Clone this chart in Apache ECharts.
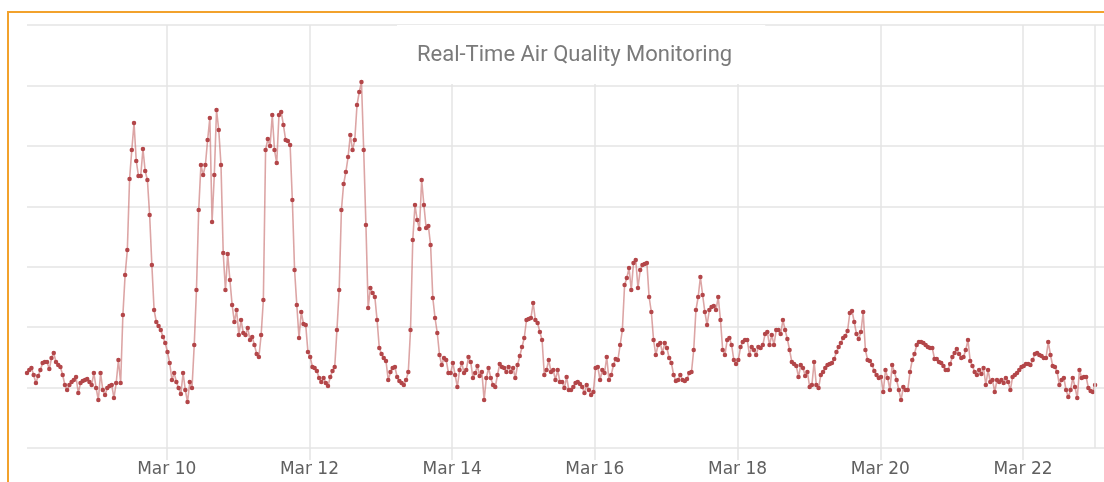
<!DOCTYPE html>
<html><head><meta charset="utf-8">
<script src="https://cdn.jsdelivr.net/npm/echarts@6/dist/echarts.min.js"></script>
<style>
html,body{margin:0;padding:0;width:1104px;height:482px;overflow:hidden;background:#fff;}
#chart{position:absolute;left:0;top:0;width:1104px;height:482px;}
#frame{position:absolute;left:7px;top:11px;width:1130px;height:520px;border:2px solid #f2a22c;pointer-events:none;}
</style></head><body>
<div id="chart"></div><div id="frame"></div>
<script>
const titleText = 'Real-Time Air Quality Monitoring';
const startTime = '2024-03-08T01:00:00';
const stepMinutes = 45;
const aqiValues = [
75,78,80,73,65,72,78,85,86,86,
79,90,95,86,83,81,73,63,58,63,
66,68,71,55,65,67,68,69,66,63,
75,60,48,75,58,53,60,62,63,50,
65,88,65,133,173,198,269,298,325,287,
272,272,299,277,268,233,183,138,126,122,
118,111,105,96,85,68,75,66,60,54,
75,58,46,66,60,103,158,238,283,273,
283,308,330,226,273,338,318,283,195,158,
194,168,143,126,138,113,128,115,113,120,
108,111,103,94,91,113,148,298,309,302,
333,298,285,333,336,323,308,307,303,248,
178,143,110,136,124,123,96,91,81,80,
77,70,66,70,65,62,71,77,81,118,
158,238,264,276,291,313,298,308,343,356,
366,298,223,140,160,155,151,128,100,94,
90,87,68,76,80,81,71,67,65,63,
68,76,118,208,243,228,219,268,243,220,
222,203,150,130,115,93,83,90,88,75,
75,85,73,61,78,85,75,78,91,86,
70,75,82,72,76,48,70,80,70,63,
61,73,84,81,80,76,81,76,80,70,
83,92,101,110,128,129,130,145,128,125,
116,108,73,78,88,76,78,68,78,66,
66,60,71,58,58,61,65,66,64,61,
55,63,58,53,56,80,81,68,78,75,
91,68,73,83,89,88,103,118,163,170,
180,158,185,188,160,178,183,184,185,151,
136,108,93,103,105,95,105,100,90,85,
73,67,68,73,68,67,69,75,76,98,
138,151,171,153,136,123,138,141,142,138,
151,128,98,93,108,110,103,88,84,88,
101,106,108,108,93,101,98,93,101,100,
103,114,116,103,113,103,118,118,114,128,
118,109,98,86,84,82,71,83,80,72,
76,61,63,86,63,60,73,76,80,83,
84,85,89,96,101,105,110,112,117,135,
137,126,114,109,116,136,98,88,87,83,
77,73,70,71,56,78,70,58,83,76,
68,58,48,61,58,58,76,88,94,103,
106,106,105,103,101,100,100,89,89,86,
85,82,78,78,84,91,95,99,94,90,
91,98,108,87,82,76,73,78,74,80,
63,78,66,68,56,68,66,68,65,70,
66,58,71,73,75,78,81,82,84,84,
83,88,94,95,93,92,90,90,106,93,
82,81,76,63,68,70,58,51,58,70,
61,50,78,70,71,71,60,57,56,63
];
const tickDates = ['2024-03-10T00:00:00','2024-03-12T00:00:00','2024-03-14T00:00:00','2024-03-16T00:00:00','2024-03-18T00:00:00','2024-03-20T00:00:00','2024-03-22T00:00:00'];
const tickLabels = ['Mar 10','Mar 12','Mar 14','Mar 16','Mar 18','Mar 20','Mar 22'];
const axisStart = '2024-03-08T01:00:00';
const axisEnd = '2024-03-23T03:15:00';
const extraGridDate = '2024-03-23T00:00:00';

const t0 = new Date(startTime).getTime();
const stepMs = stepMinutes * 60 * 1000;
const seriesData = aqiValues.map((v, i) => [t0 + i * stepMs, v]);
const tickMs = tickDates.map(d => new Date(d).getTime());
const gridColor = '#e4e4e4';

const chart = echarts.init(document.getElementById('chart'), null, {renderer: 'canvas'});
chart.setOption({
  animation: false,
  backgroundColor: '#fff',
  title: {
    text: titleText,
    left: 397, top: 25,
    backgroundColor: '#fff',
    padding: [19, 33, 18, 20],
    textStyle: {color: '#7a7a7a', fontSize: 22, fontWeight: 'normal', fontFamily: 'Roboto'}
  },
  grid: {left: 27, right: 0, top: 25, bottom: 34, outerBoundsMode: 'none', containLabel: false},
  xAxis: {
    type: 'value',
    min: new Date(axisStart).getTime(),
    max: new Date(axisEnd).getTime(),
    axisLine: {show: false},
    axisTick: {show: true, length: 12, customValues: tickMs, lineStyle: {color: gridColor, width: 1.5}},
    axisLabel: {
      customValues: tickMs,
      formatter: function (val) {
        const idx = tickMs.indexOf(val);
        return idx >= 0 ? tickLabels[idx] : '';
      },
      color: '#606060', fontSize: 17, margin: 13, fontFamily: 'DejaVu Sans'
    },
    splitLine: {show: true, lineStyle: {color: gridColor, width: 1.5}}
  },
  yAxis: {
    type: 'value', min: 0, max: 423.01, interval: 60.43,
    axisLabel: {show: false}, axisLine: {show: false}, axisTick: {show: false},
    splitLine: {show: true, lineStyle: {color: gridColor, width: 1.5}}
  },
  series: [
    {
      type: 'line', z: 1, data: [], silent: true,
      markLine: {
        silent: true, symbol: ['none', 'none'], label: {show: false},
        lineStyle: {color: gridColor, type: 'solid', width: 1.5},
        data: [{xAxis: new Date(extraGridDate).getTime()}]
      }
    },
    {
      type: 'line',
      data: seriesData,
      showAllSymbol: true,
      symbol: 'circle',
      symbolSize: 4.5,
      lineStyle: {color: 'rgba(196,105,105,0.6)', width: 1.6},
      itemStyle: {color: '#b34649'},
      z: 3
    }
  ]
});
</script>
</body></html>
